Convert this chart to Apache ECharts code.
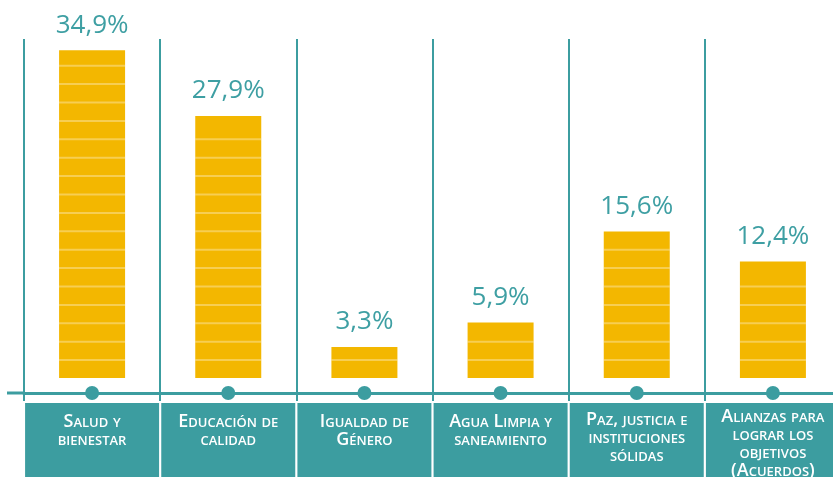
<!DOCTYPE html>
<html>
<head>
<meta charset="utf-8">
<script src="https://cdn.jsdelivr.net/npm/echarts@6/dist/echarts.min.js"></script>
<style>
  html, body { margin: 0; padding: 0; background: #ffffff; }
  #chart { width: 833px; height: 477px; }
</style>
</head>
<body>
<div id="chart"></div>
<script>
// Objetivos de Desarrollo Sostenible: porcentaje por objetivo
const categories = [
  'Salud y\nbienestar',
  'Educación de\ncalidad',
  'Igualdad de\nGénero',
  'Agua Limpia y\nsaneamiento',
  'Paz, justicia e\ninstituciones\nsólidas',
  'Alianzas para\nlograr los\nobjetivos\n(Acuerdos)'
];
const values = [34.9, 27.9, 3.3, 5.9, 15.6, 12.4];

const TEAL = '#3c9da0';
const LABEL_TEAL = '#3e9fa3';
const GOLD = '#f3b700';
const BAR_W = 66;
const STRIPE_STEP = 18.4;

const chart = echarts.init(document.getElementById('chart'), null, { renderer: 'canvas' });

// category items: longer labels start a little higher in their box
const axisItems = categories.map(function (c) {
  const n = c.split('\n').length;
  return { value: c, textStyle: { padding: [10 - (n - 2) * 2.5, 0, 0, 0] } };
});

const fmtPct = function (v) { return v.toFixed(1).replace('.', ',') + '%'; };

const option = {
  animation: false,
  grid: { left: 24, top: 39, width: 817, bottom: 84, outerBoundsMode: 'none' },
  xAxis: {
    type: 'category',
    data: axisItems,
    boundaryGap: true,
    axisLine: { show: true, onZero: false, lineStyle: { color: TEAL, width: 3 } },
    axisTick: { show: true, interval: 0, length: 8, lineStyle: { color: TEAL, width: 2 } },
    splitLine: { show: true, interval: 0, lineStyle: { color: TEAL, width: 2 } },
    axisLabel: {
      interval: 0,
      margin: 10,
      color: '#ffffff',
      fontFamily: 'Open Sans',
      fontSize: 18,
      fontStyle: 'small-caps',
      fontWeight: 600,
      lineHeight: 18,
      backgroundColor: TEAL,
      width: 134,
      height: 74,
      align: 'center',
      verticalAlign: 'top',
      overflow: 'none'
    }
  },
  yAxis: {
    type: 'value',
    min: -1.6,
    max: 36.1,
    show: false,
    splitLine: { show: false }
  },
  series: [
    {
      type: 'bar',
      data: values,
      barWidth: BAR_W,
      itemStyle: { color: GOLD },
      label: {
        show: true,
        position: 'top',
        distance: 12,
        color: LABEL_TEAL,
        fontFamily: 'Open Sans',
        fontSize: 26,
        formatter: function (p) { return fmtPct(p.value); }
      },
      z: 2
    },
    {
      // light stripes across each bar and the marker dot on the axis
      type: 'custom',
      data: values.map(function (v, i) { return [i, v]; }),
      silent: true,
      z: 3,
      renderItem: function (params, api) {
        const i = api.value(0);
        const v = api.value(1);
        const base = api.coord([i, 0]);
        const top = api.coord([i, v]);
        const cs = params.coordSys;
        const children = [];
        for (let y = base[1] - STRIPE_STEP + 0.5; y > top[1] + 8; y -= STRIPE_STEP) {
          children.push({
            type: 'rect',
            shape: { x: base[0] - BAR_W / 2, y: y - 1, width: BAR_W, height: 2 },
            style: { fill: 'rgba(255,255,255,0.32)' }
          });
        }
        children.push({
          type: 'circle',
          shape: { cx: base[0], cy: cs.y + cs.height, r: 7 },
          style: { fill: TEAL }
        });
        return { type: 'group', children: children };
      }
    }
  ],
  graphic: [
    {
      // axis line continues to the left of the first column
      type: 'rect',
      shape: { x: 7, y: 391.5, width: 18, height: 3 },
      style: { fill: TEAL }
    }
  ]
};

chart.setOption(option);
</script>
</body>
</html>
